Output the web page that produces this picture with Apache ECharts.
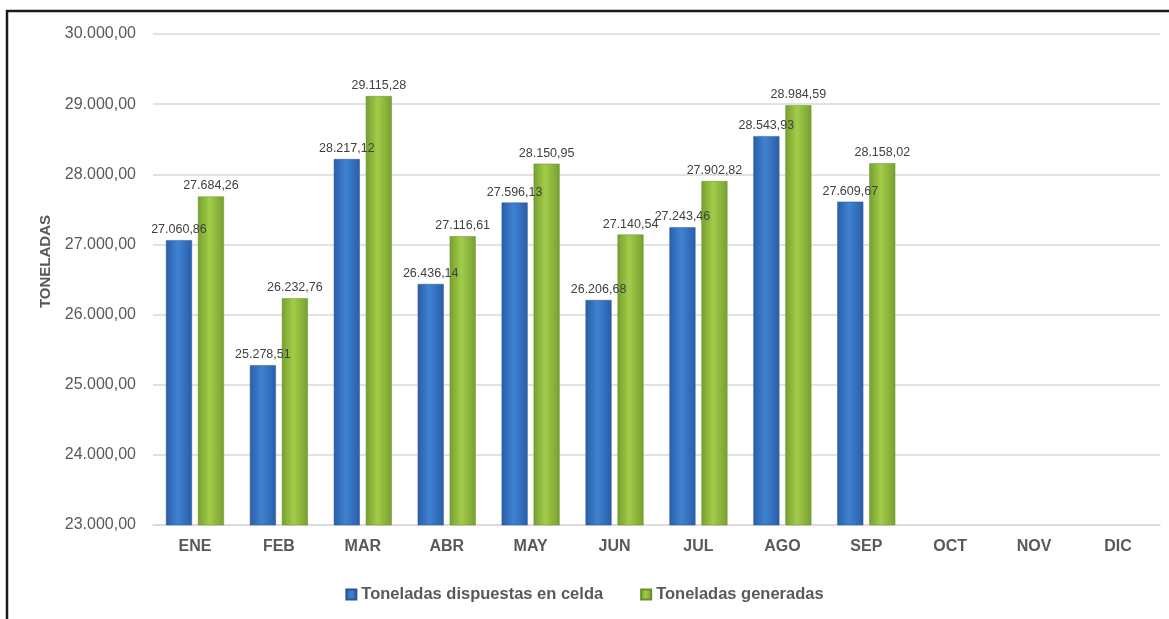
<!DOCTYPE html>
<html>
<head>
<meta charset="utf-8">
<script src="https://cdn.jsdelivr.net/npm/echarts@6/dist/echarts.min.js"></script>
<style>
  html, body { margin: 0; padding: 0; background: #fff; }
  #chart { width: 1169px; height: 619px; }
</style>
</head>
<body>
<div id="chart"></div>
<script>
  // datos por mes
  var meses = ['ENE', 'FEB', 'MAR', 'ABR', 'MAY', 'JUN', 'JUL', 'AGO', 'SEP', 'OCT', 'NOV', 'DIC'];
  var dispuestas = [27060.86, 25278.51, 28217.12, 26436.14, 27596.13, 26206.68, 27243.46, 28543.93, 27609.67, null, null, null];
  var generadas = [27684.26, 26232.76, 29115.28, 27116.61, 28150.95, 27140.54, 27902.82, 28984.59, 28158.02, null, null, null];
  var nombres = ['Toneladas dispuestas en celda', 'Toneladas generadas'];

  var fuente = '"Liberation Sans Narrow", "Liberation Sans", Arial, sans-serif';

  // 27060.86 -> 27.060,86
  function fmt(v) {
    var partes = Number(v).toFixed(2).split('.');
    return partes[0].replace(/\B(?=(\d{3})+(?!\d))/g, '.') + ',' + partes[1];
  }

  function degradado(borde, centro) {
    return new echarts.graphic.LinearGradient(0, 0, 1, 0, [
      { offset: 0, color: borde },
      { offset: 0.45, color: centro },
      { offset: 1, color: borde }
    ]);
  }

  var myChart = echarts.init(document.getElementById('chart'));
  var option = {
    animation: false,
    textStyle: { fontFamily: fuente },
    graphic: [{
      type: 'polyline',
      shape: { points: [[7, 619], [7, 11], [1169, 11]] },
      style: { stroke: '#1a1a1a', lineWidth: 2.5, fill: null }
    }],
    legend: {
      bottom: 11,
      left: 'center',
      itemWidth: 10,
      itemHeight: 10,
      itemGap: 37,
      icon: 'rect',
      textStyle: { color: '#595959', fontSize: 16.5, fontWeight: 'bold', fontFamily: fuente },
      data: nombres
    },
    grid: { left: 153, right: 9, top: 34, bottom: 94 },
    xAxis: {
      type: 'category',
      data: meses,
      axisLine: { lineStyle: { color: '#d9d9d9', width: 1.5 } },
      axisTick: { show: false },
      axisLabel: { color: '#595959', fontSize: 16, fontWeight: 'bold', margin: 14 }
    },
    yAxis: {
      type: 'value',
      min: 23000,
      max: 30000,
      interval: 1000,
      name: 'TONELADAS',
      nameLocation: 'middle',
      nameGap: 100,
      nameTextStyle: { color: '#595959', fontSize: 15, fontWeight: 'bold', padding: [0, 0, 0, 36] },
      axisLine: { show: false },
      axisTick: { show: false },
      splitLine: { lineStyle: { color: '#d9d9d9', width: 1.5 } },
      axisLabel: {
        color: '#595959',
        fontSize: 16,
        margin: 17,
        formatter: function (v) { return fmt(v); }
      }
    },
    series: [{
      name: nombres[0],
      type: 'bar',
      data: dispuestas,
      barWidth: 26,
      barGap: '23%',
      itemStyle: { color: degradado('#2a5ea8', '#3f82d2'), borderColor: '#2a5595', borderWidth: 0.5 },
      label: {
        show: true,
        position: 'top',
        distance: 4,
        color: '#404040',
        fontSize: 12.5,
        formatter: function (p) { return fmt(p.value); }
      }
    }, {
      name: nombres[1],
      type: 'bar',
      data: generadas,
      barWidth: 26,
      itemStyle: { color: degradado('#76a030', '#a2cc48'), borderColor: '#6a8f2a', borderWidth: 0.5 },
      label: {
        show: true,
        position: 'top',
        distance: 4,
        color: '#404040',
        fontSize: 12.5,
        formatter: function (p) { return fmt(p.value); }
      }
    }]
  };
  myChart.setOption(option);
</script>
</body>
</html>
